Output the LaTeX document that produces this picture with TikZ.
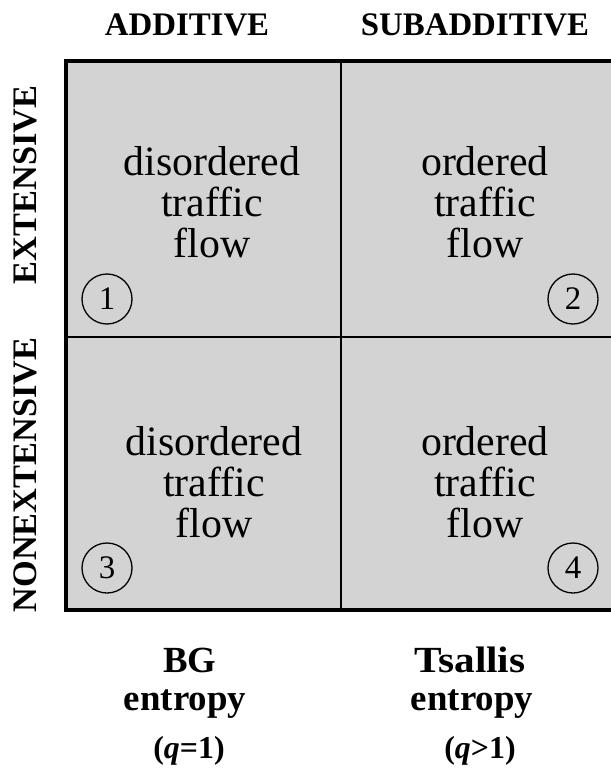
\documentclass[tikz,border=0pt]{standalone}
\usepackage{fontspec}
\setmainfont{Liberation Serif}
\definecolor{cellgray}{RGB}{211,211,211}
\begin{document}
\begin{tikzpicture}[x=1bp,y=-1bp,
  head/.style={font=\fontsize{33}{38}\selectfont\bfseries, inner sep=0, anchor=base},
  side/.style={font=\fontsize{34.5}{40}\selectfont\bfseries, inner sep=0, rotate=90},
  celltext/.style={font=\fontsize{42}{41}\selectfont, align=center, inner sep=0},
  num/.style={draw, circle, line width=1.3bp, minimum size=50bp, inner sep=0, font=\fontsize{33}{33}\selectfont},
  foot/.style={font=\fontsize{37}{40}\selectfont\bfseries, inner sep=0, anchor=base},
  footq/.style={font=\fontsize{32}{36}\selectfont\bfseries, inner sep=0, anchor=base},
  outer/.style={line width=3.5bp},
  inner/.style={line width=2.4bp}]
\useasboundingbox (0,0) rectangle (611,770);
% grid
\fill[cellgray] (66,61) rectangle (615,610);
\draw[inner] (341,61) -- (341,610);
\draw[inner] (66,337) -- (615,337);
\draw[outer] (615,61) -- (66,61) -- (66,610) -- (615,610);
% headings
\node[head] (hadd) at (187,36) {ADDITIVE};
\node[head] (hsub) at (475,36) {SUBADDITIVE};
\node[side] (vext) at (25,185) {EXTENSIVE};
\node[side] (vnon) at (25,475) {NONEXTENSIVE};
% cells
\node[celltext] (c1) at (212,202) {disordered\\traffic\\flow};
\node[celltext] (c2) at (485,202) {ordered\\traffic\\flow};
\node[celltext] (c3) at (214,482) {disordered\\traffic\\flow};
\node[celltext] (c4) at (485,482) {ordered\\traffic\\flow};
% numbers
\node[num] (n1) at (107,299) {1};
\node[num] (n2) at (573,299) {2};
\node[num] (n3) at (107,568) {3};
\node[num] (n4) at (573,568) {4};
% bottom labels
\node[foot] (bg) at (190,672) {BG};
\node[foot] (bgent) at (185,710) {entropy};
\node[footq] (bgq) at (189,758) {(\textit{q}=1)};
\node[foot, xscale=1.12] (ts) at (470,672) {Tsallis};
\node[foot] (tsent) at (472,710) {entropy};
\node[footq] (tsq) at (480,758) {(\textit{q}>1)};
\end{tikzpicture}
\end{document}
